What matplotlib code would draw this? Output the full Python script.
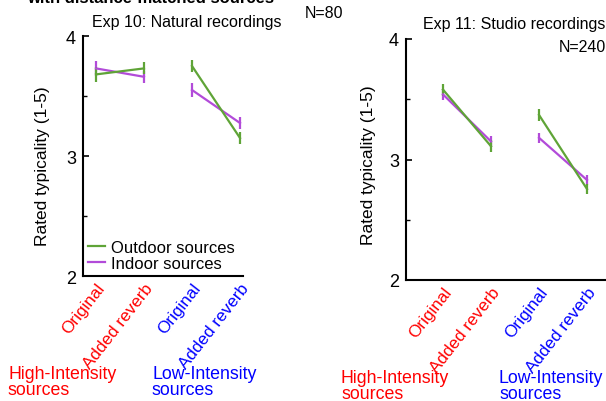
import matplotlib
matplotlib.use("Agg")
import matplotlib.pyplot as plt
from matplotlib.ticker import MultipleLocator
from matplotlib.lines import Line2D

plt.rcParams['font.family'] = ['Liberation Sans', 'DejaVu Sans']

# ---- data ----
conditions = ['Original', 'Added reverb', 'Original', 'Added reverb']
cond_colors = ['#ff0000', '#ff0000', '#0000ff', '#0000ff']

exp10_outdoor = [3.68, 3.73, 3.75, 3.15]
exp10_outdoor_err = [0.06, 0.05, 0.05, 0.05]
exp10_indoor = [3.73, 3.66, 3.55, 3.275]
exp10_indoor_err = [0.06, 0.05, 0.06, 0.05]

exp11_outdoor = [3.58, 3.11, 3.37, 2.755]
exp11_outdoor_err = [0.05, 0.05, 0.05, 0.045]
exp11_indoor = [3.54, 3.15, 3.18, 2.83]
exp11_indoor_err = [0.045, 0.045, 0.04, 0.04]

series_labels = ['Outdoor sources', 'Indoor sources']
green = '#5fa437'
purple = '#b24bd9'

W, H = 606, 402
fig = plt.figure(figsize=(W / 100, H / 100), dpi=100)


def px(x0, y_top, x1, y_bot):
    return [x0 / W, 1 - y_bot / H, (x1 - x0) / W, (y_bot - y_top) / H]


def draw(ax, outdoor, outdoor_err, indoor, indoor_err, xlim):
    xs = [1, 2, 3, 4]
    for vals, errs, col in [(indoor, indoor_err, purple),
                            (outdoor, outdoor_err, green)]:
        for g in (0, 2):
            ax.errorbar(xs[g:g + 2], vals[g:g + 2], yerr=errs[g:g + 2], color=col,
                        lw=1.6, elinewidth=1.6, capsize=0)
    ax.set_xlim(*xlim)
    ax.set_ylim(2, 4)
    ax.set_yticks([2, 3, 4])
    ax.yaxis.set_minor_locator(MultipleLocator(0.5))
    ax.tick_params(axis='y', which='major', direction='in', length=4, width=1.2,
                   labelsize=13, pad=5)
    ax.tick_params(axis='y', which='minor', direction='in', length=3, width=1.0)
    ax.set_xticks(xs)
    ax.set_xticklabels(conditions, rotation=52, ha='right', va='top',
                       rotation_mode='anchor', fontsize=12.3)
    for t, c in zip(ax.get_xticklabels(), cond_colors):
        t.set_color(c)
    ax.tick_params(axis='x', length=0, pad=3)
    for s in ('top', 'right'):
        ax.spines[s].set_visible(False)
    for s in ('left', 'bottom'):
        ax.spines[s].set_linewidth(1.5)
    ax.set_facecolor('none')


ax1 = fig.add_axes(px(83, 37, 243, 277))
draw(ax1, exp10_outdoor, exp10_outdoor_err, exp10_indoor, exp10_indoor_err,
     (1 - 13 / 48, 4 + 3 / 48))
ax2 = fig.add_axes(px(406, 40, 630, 281))
draw(ax2, exp11_outdoor, exp11_outdoor_err, exp11_indoor, exp11_indoor_err,
     (1 - 37 / 48, 4 + 43 / 48))

handles = [Line2D([], [], color=green, lw=1.6), Line2D([], [], color=purple, lw=1.6)]
ax1.legend(handles, series_labels, loc='lower left',
           bbox_to_anchor=(5 / 160, 5 / 240), frameon=False, fontsize=12,
           handlelength=1.0, handletextpad=0.4, labelspacing=0.08,
           borderpad=0, borderaxespad=0)

# y labels
fig.text(43 / W, 1 - 166 / H, 'Rated typicality (1-5)', rotation=90,
         ha='center', va='center', fontsize=12.5)
fig.text(368 / W, 1 - 165 / H, 'Rated typicality (1-5)', rotation=90,
         ha='center', va='center', fontsize=12.5)

# titles
fig.text(151 / W, 1 - 3 / H, 'with distance-matched sources', ha='center',
         va='baseline', fontsize=12, fontweight='bold')
fig.text(92 / W, 1 - 23 / H, 'Exp 10: Natural recordings', ha='left',
         va='center', fontsize=11.5)
fig.text(305 / W, 1 - 14 / H, 'N=80', ha='left', va='center', fontsize=11.5)
fig.text(423 / W, 1 - 25 / H, 'Exp 11: Studio recordings', ha='left',
         va='center', fontsize=11.5)
fig.text(606 / W, 1 - 47 / H, 'N=240', ha='right', va='center', fontsize=11.5)

# group labels
for x, y, txt, c in [(8, 366, 'High-Intensity\nsources', '#ff0000'),
                     (152, 366, 'Low-Intensity\nsources', '#0000ff'),
                     (341, 370, 'High-Intensity\nsources', '#ff0000'),
                     (499, 370, 'Low-Intensity\nsources', '#0000ff')]:
    fig.text(x / W, 1 - y / H, txt, ha='left', va='top', color=c,
             fontsize=12.8, linespacing=0.92)

fig.savefig('out.png', dpi=100)
